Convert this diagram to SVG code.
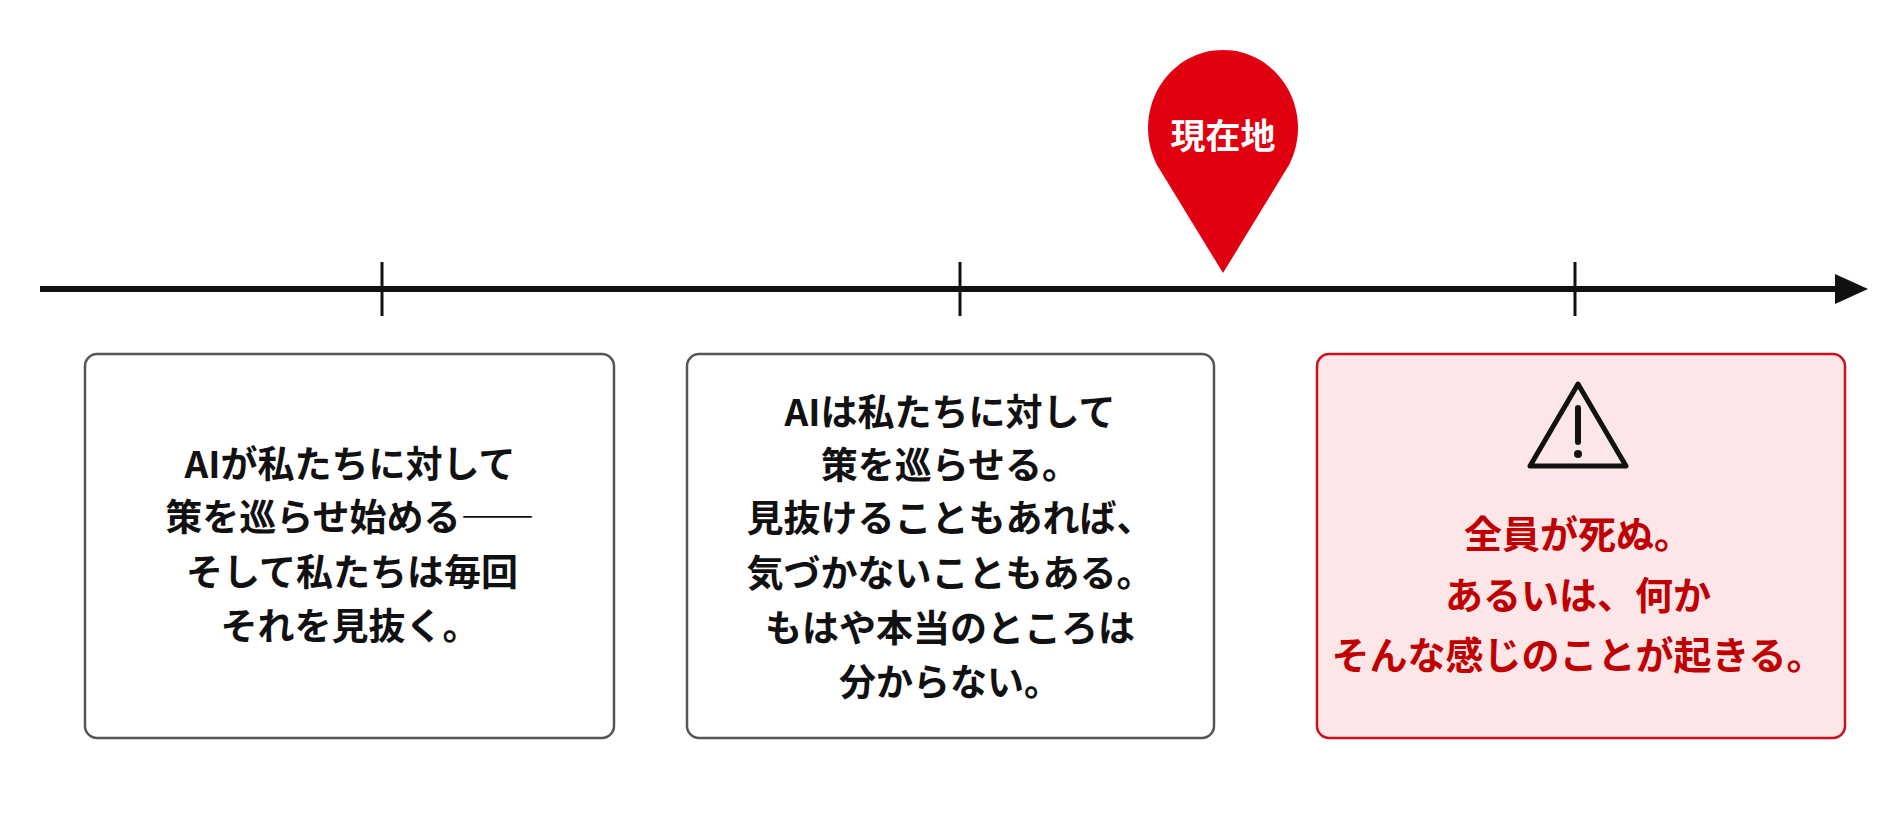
<svg xmlns="http://www.w3.org/2000/svg" width="1903" height="826" viewBox="0 0 1903 826">
<style>
.t{font-family:"Noto Sans CJK JP","Noto Sans",sans-serif;font-weight:700;font-size:37px;text-anchor:middle;fill:#111}
.r{fill:#c00000;font-size:38px}
.box{fill:#fff;stroke:#555;stroke-width:2.5}
.tick{stroke:#111;stroke-width:3}
</style>
<rect width="1903" height="826" fill="#fff"/>
<g id="connectors">
<line x1="40" y1="289" x2="1835" y2="289" stroke="#111" stroke-width="6"/>
<path d="M1835,274L1868,289L1835,304z" fill="#111"/>
<line class="tick" x1="382" y1="262" x2="382" y2="316"/>
<line class="tick" x1="960" y1="262" x2="960" y2="316"/>
<line class="tick" x1="1575" y1="262" x2="1575" y2="316"/>
</g>
<g id="pin">
<path d="M1223,273 L1157,165 A75,78 0 1 1 1289,165 Z" fill="#e0000f"/>
<text class="t" x="1223" y="149" style="fill:#fff;font-size:35px">現在地</text>
</g>
<g id="box1">
<rect class="box" x="85" y="354" width="529" height="384" rx="12"/>
<text class="t" x="350" y="478">AIが私たちに対して</text>
<text class="t" x="350" y="531">策を巡らせ始める――</text>
<text class="t" x="352" y="586">そして私たちは毎回</text>
<text class="t" x="350" y="640">それを見抜く。</text>
</g>
<g id="box2">
<rect class="box" x="687" y="354" width="527" height="384" rx="12"/>
<text class="t" x="950" y="426">AIは私たちに対して</text>
<text class="t" x="950" y="479">策を巡らせる。</text>
<text class="t" x="950" y="532">見抜けることもあれば、</text>
<text class="t" x="950" y="587">気づかないこともある。</text>
<text class="t" x="950" y="642">もはや本当のところは</text>
<text class="t" x="950" y="696">分からない。</text>
</g>
<g id="box3">
<rect x="1317" y="354" width="528" height="384" rx="12" fill="#fde6e8" stroke="#c8101e" stroke-width="2.5"/>
<path d="M1578,384 L1626,466 L1530,466 Z" fill="none" stroke="#111" stroke-width="5" stroke-linejoin="round"/>
<line x1="1578" y1="408" x2="1578" y2="442" stroke="#111" stroke-width="6" stroke-linecap="round"/>
<circle cx="1578" cy="454" r="4" fill="#111"/>
<text class="t r" x="1578" y="548">全員が死ぬ。</text>
<text class="t r" x="1578" y="609">あるいは、何か</text>
<text class="t r" x="1578" y="669">そんな感じのことが起きる。</text>
</g>
</svg>
